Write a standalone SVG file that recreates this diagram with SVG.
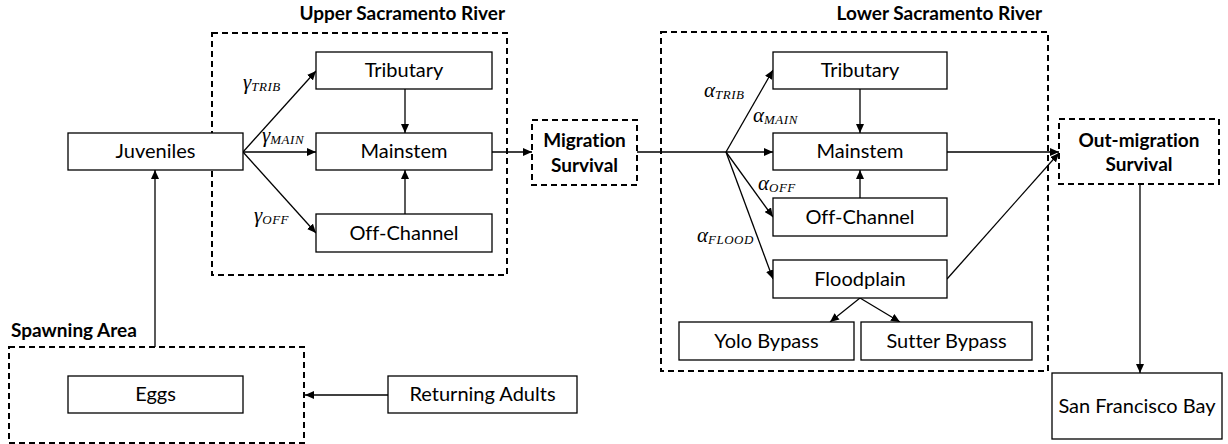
<svg xmlns="http://www.w3.org/2000/svg" width="1228" height="444" viewBox="0 0 1228 444">
<defs>
<marker id="ah" markerUnits="userSpaceOnUse" markerWidth="10" markerHeight="8" refX="9" refY="4" orient="auto">
<path d="M0,0 L9,4 L0,8 z" fill="#000"/>
</marker>
<style>
text{font-variant-ligatures:none;font-feature-settings:"liga" 0,"dlig" 0}
.box{fill:#fff;stroke:#000;stroke-width:1.3}
.dash{fill:none;stroke:#000;stroke-width:2;stroke-dasharray:6,4}
.t{font-family:Lato,"Open Sans",sans-serif;font-size:20px;text-anchor:middle;fill:#000}
.b{font-family:Lato,"Open Sans",sans-serif;font-size:19px;font-weight:bold;fill:#000}
.m{font-family:"Liberation Serif","DejaVu Serif",serif;font-style:italic;font-size:21px;fill:#000}
.s{font-size:13px;letter-spacing:0.5px}
.c{fill:none;stroke:#000;stroke-width:1.3}
.ca{fill:none;stroke:#000;stroke-width:1.3;marker-end:url(#ah)}
</style>
</defs>
<rect width="1228" height="444" fill="#fff"/>
<g id="upper-sacramento">
<rect class="dash" x="212" y="33" width="295" height="242"/>
<text class="b" x="505" y="20" text-anchor="end">Upper Sacramento River</text>
</g>
<g id="lower-sacramento">
<rect class="dash" x="661" y="32" width="387" height="339"/>
<text class="b" x="1042" y="20" text-anchor="end">Lower Sacramento River</text>
</g>
<g id="spawning-area">
<rect class="dash" x="9" y="347" width="295" height="96"/>
<text class="b" x="11" y="337">Spawning Area</text>
</g>
<g id="connectors">
<line class="ca" x1="243" y1="152" x2="316" y2="71"/>
<line class="ca" x1="243" y1="152" x2="316" y2="152"/>
<line class="ca" x1="243" y1="152" x2="316" y2="233"/>
<line class="ca" x1="405" y1="89" x2="405" y2="133"/>
<line class="ca" x1="405" y1="214" x2="405" y2="170"/>
<line class="ca" x1="492" y1="152" x2="532" y2="152"/>
<line class="c" x1="637" y1="152" x2="726" y2="152"/>
<line class="ca" x1="726" y1="152" x2="773" y2="152"/>
<line class="ca" x1="726" y1="152" x2="773" y2="70"/>
<line class="ca" x1="726" y1="152" x2="773" y2="217"/>
<line class="ca" x1="726" y1="152" x2="773" y2="279"/>
<line class="ca" x1="860" y1="89" x2="860" y2="133"/>
<line class="ca" x1="860" y1="198" x2="860" y2="170"/>
<line class="ca" x1="947" y1="152" x2="1059" y2="152"/>
<line class="ca" x1="947" y1="279" x2="1059" y2="153"/>
<line class="ca" x1="860" y1="298" x2="830" y2="322"/>
<line class="ca" x1="860" y1="298" x2="900" y2="322"/>
<line class="ca" x1="1140" y1="184" x2="1140" y2="373"/>
<line class="ca" x1="388" y1="395" x2="305" y2="395"/>
<line class="ca" x1="155" y1="347" x2="155" y2="170"/>
<text class="m" x="243" y="89">γ<tspan class="s" dy="2">TRIB</tspan></text>
<text class="m" x="262" y="142">γ<tspan class="s" dy="2">MAIN</tspan></text>
<text class="m" x="254" y="222">γ<tspan class="s" dy="2">OFF</tspan></text>
<text class="m" x="704" y="97">α<tspan class="s" dy="2">TRIB</tspan></text>
<text class="m" x="753" y="122">α<tspan class="s" dy="2">MAIN</tspan></text>
<text class="m" x="758" y="190">α<tspan class="s" dy="2">OFF</tspan></text>
<text class="m" x="697" y="242">α<tspan class="s" dy="2">FLOOD</tspan></text>
</g>
<g id="juveniles"><rect class="box" x="68" y="133" width="175" height="37"/><text class="t" x="155.5" y="158">Juveniles</text></g>
<g id="upper-tributary"><rect class="box" x="316" y="52" width="176" height="37"/><text class="t" x="404" y="77">Tributary</text></g>
<g id="upper-mainstem"><rect class="box" x="316" y="133" width="176" height="37"/><text class="t" x="404" y="158">Mainstem</text></g>
<g id="upper-offchannel"><rect class="box" x="316" y="214" width="176" height="38"/><text class="t" x="404" y="240">Off-Channel</text></g>
<g id="migration-survival"><rect class="dash" x="532" y="120" width="105" height="65"/><text class="b" x="584.5" y="147" text-anchor="middle">Migration</text><text class="b" x="584.5" y="172" text-anchor="middle">Survival</text></g>
<g id="lower-tributary"><rect class="box" x="773" y="52" width="174" height="37"/><text class="t" x="860" y="77">Tributary</text></g>
<g id="lower-mainstem"><rect class="box" x="773" y="133" width="174" height="37"/><text class="t" x="860" y="158">Mainstem</text></g>
<g id="lower-offchannel"><rect class="box" x="773" y="198" width="174" height="38"/><text class="t" x="860" y="224">Off-Channel</text></g>
<g id="floodplain"><rect class="box" x="773" y="260" width="174" height="38"/><text class="t" x="860" y="286">Floodplain</text></g>
<g id="yolo-bypass"><rect class="box" x="679" y="322" width="175" height="38"/><text class="t" x="766.5" y="348">Yolo Bypass</text></g>
<g id="sutter-bypass"><rect class="box" x="861" y="322" width="171" height="38"/><text class="t" x="946.5" y="348">Sutter Bypass</text></g>
<g id="outmigration-survival"><rect class="dash" x="1059" y="119" width="160" height="65"/><text class="b" x="1139" y="147" text-anchor="middle">Out-migration</text><text class="b" x="1139" y="171" text-anchor="middle">Survival</text></g>
<g id="san-francisco-bay"><rect class="box" x="1052" y="373" width="170" height="66"/><text class="t" x="1137" y="413">San Francisco Bay</text></g>
<g id="eggs"><rect class="box" x="68" y="376" width="175" height="37"/><text class="t" x="155.5" y="401">Eggs</text></g>
<g id="returning-adults"><rect class="box" x="388" y="376" width="189" height="37"/><text class="t" x="482.5" y="401">Returning Adults</text></g>
</svg>
